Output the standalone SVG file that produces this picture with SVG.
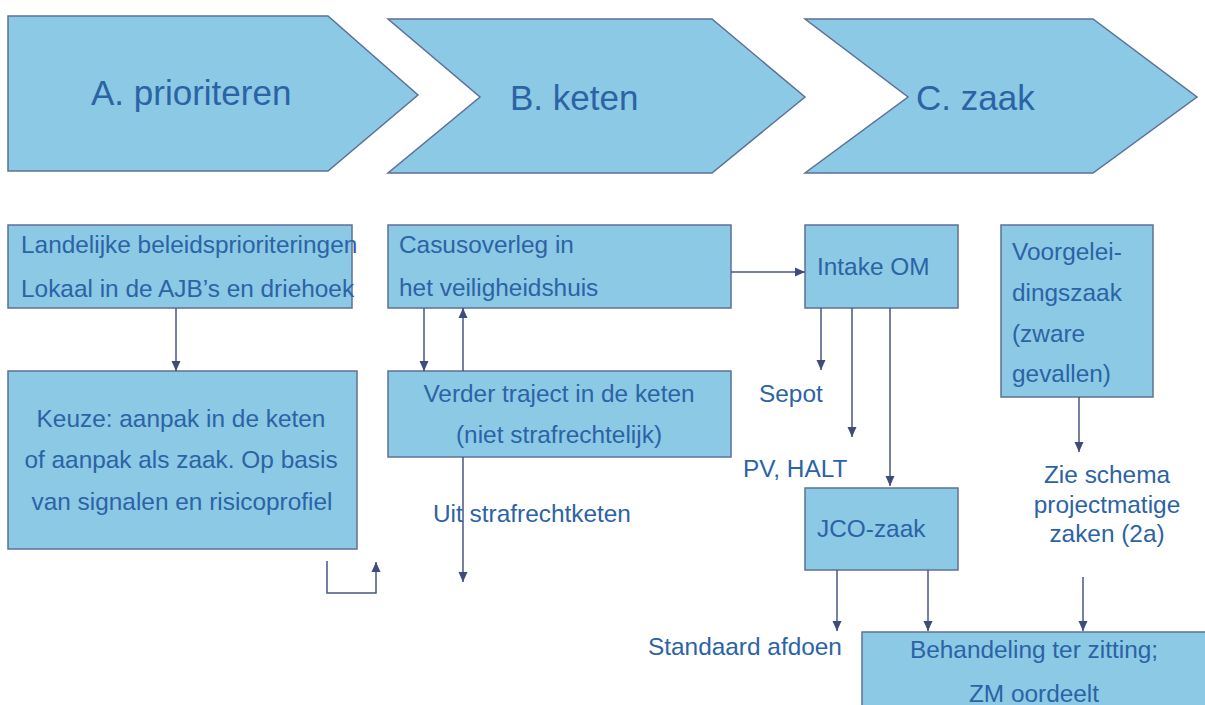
<svg xmlns="http://www.w3.org/2000/svg" width="1205" height="705" viewBox="0 0 1205 705">
<style>
.shape{fill:#8bc9e5;stroke:#5d7098;stroke-width:1.5}
.t{font-family:"Liberation Sans",Arial,sans-serif;font-size:24.4px;fill:#2c63a5}
.big{font-family:"Liberation Sans",Arial,sans-serif;font-size:35px;fill:#2c63a5}
.c{text-anchor:middle}
.con{fill:none;stroke:#4a5683;stroke-width:1.5}
</style>
<defs>
<marker id="ah" markerUnits="userSpaceOnUse" markerWidth="10" markerHeight="10" refX="10" refY="5" orient="auto" viewBox="0 0 10 10">
<path d="M0,0.5 L10,5 L0,9.5 z" fill="#3f4b78"/>
</marker>
</defs>
<rect width="1205" height="705" fill="#ffffff"/>
<g id="phaseA">
<polygon class="shape" points="8,16 328,16 418,95 328,171 8,171"/>
<text class="big" x="91" y="105">A. prioriteren</text>
</g>
<g id="phaseB">
<polygon class="shape" points="388,19 712,19 805,97 712,173 388,173 480,97"/>
<text class="big" x="510" y="110">B. keten</text>
</g>
<g id="phaseC">
<polygon class="shape" points="805,19 1093,19 1197,97 1093,173 805,173 908,97"/>
<text class="big" x="916" y="110">C. zaak</text>
</g>
<g id="landelijk">
<rect class="shape" x="8" y="225" width="344" height="83"/>
<text class="t" x="21" y="253">Landelijke beleidsprioriteringen</text>
<text class="t" x="21" y="297">Lokaal in de AJB’s en driehoek</text>
</g>
<g id="keuze">
<rect class="shape" x="8" y="371" width="349" height="178"/>
<text class="t c" x="181" y="427">Keuze: aanpak in de keten</text>
<text class="t c" x="181" y="468">of aanpak als zaak. Op basis</text>
<text class="t c" x="182" y="510">van signalen en risicoprofiel</text>
</g>
<g id="casusoverleg">
<rect class="shape" x="388" y="225" width="343" height="83"/>
<text class="t" x="399" y="253">Casusoverleg in</text>
<text class="t" x="399" y="296">het veiligheidshuis</text>
</g>
<g id="verder">
<rect class="shape" x="388" y="371" width="343" height="86"/>
<text class="t c" x="559" y="402">Verder traject in de keten</text>
<text class="t c" x="559" y="443">(niet strafrechtelijk)</text>
</g>
<g id="uit">
<text class="t" x="433" y="522">Uit strafrechtketen</text>
</g>
<g id="intake">
<rect class="shape" x="805" y="225" width="153" height="83"/>
<text class="t" x="817" y="275">Intake OM</text>
</g>
<g id="sepot">
<text class="t" x="759" y="402">Sepot</text>
</g>
<g id="pvhalt">
<text class="t" x="743" y="477">PV, HALT</text>
</g>
<g id="jco">
<rect class="shape" x="805" y="488" width="153" height="82"/>
<text class="t" x="817" y="537">JCO-zaak</text>
</g>
<g id="voorgeleiding">
<rect class="shape" x="1001" y="225" width="152" height="172"/>
<text class="t" x="1012" y="260">Voorgelei-</text>
<text class="t" x="1012" y="301">dingszaak</text>
<text class="t" x="1012" y="342">(zware</text>
<text class="t" x="1012" y="382">gevallen)</text>
</g>
<g id="zieschema">
<text class="t c" x="1107" y="483">Zie schema</text>
<text class="t c" x="1107" y="513">projectmatige</text>
<text class="t c" x="1107" y="542">zaken (2a)</text>
</g>
<g id="standaard">
<text class="t" x="648" y="655">Standaard afdoen</text>
</g>
<g id="behandeling">
<rect class="shape" x="862" y="632" width="350" height="90"/>
<text class="t c" x="1034" y="658">Behandeling ter zitting;</text>
<text class="t c" x="1034" y="702">ZM oordeelt</text>
</g>
<g id="connectors">
<line class="con" x1="176" y1="308" x2="176" y2="371" marker-end="url(#ah)"/>
<line class="con" x1="424" y1="308" x2="424" y2="371" marker-end="url(#ah)"/>
<line class="con" x1="463" y1="371" x2="463" y2="308" marker-end="url(#ah)"/>
<line class="con" x1="463" y1="457" x2="463" y2="582" marker-end="url(#ah)"/>
<line class="con" x1="731" y1="272" x2="805" y2="272" marker-end="url(#ah)"/>
<line class="con" x1="821" y1="308" x2="821" y2="370" marker-end="url(#ah)"/>
<line class="con" x1="852" y1="308" x2="852" y2="437" marker-end="url(#ah)"/>
<line class="con" x1="890" y1="308" x2="890" y2="486" marker-end="url(#ah)"/>
<line class="con" x1="1079" y1="397" x2="1079" y2="452" marker-end="url(#ah)"/>
<polyline class="con" points="327,561 327,593 376,593 376,562" marker-end="url(#ah)"/>
<line class="con" x1="837" y1="570" x2="837" y2="631" marker-end="url(#ah)"/>
<line class="con" x1="928" y1="570" x2="928" y2="631" marker-end="url(#ah)"/>
<line class="con" x1="1083" y1="577" x2="1083" y2="631" marker-end="url(#ah)"/>
</g>
</svg>
